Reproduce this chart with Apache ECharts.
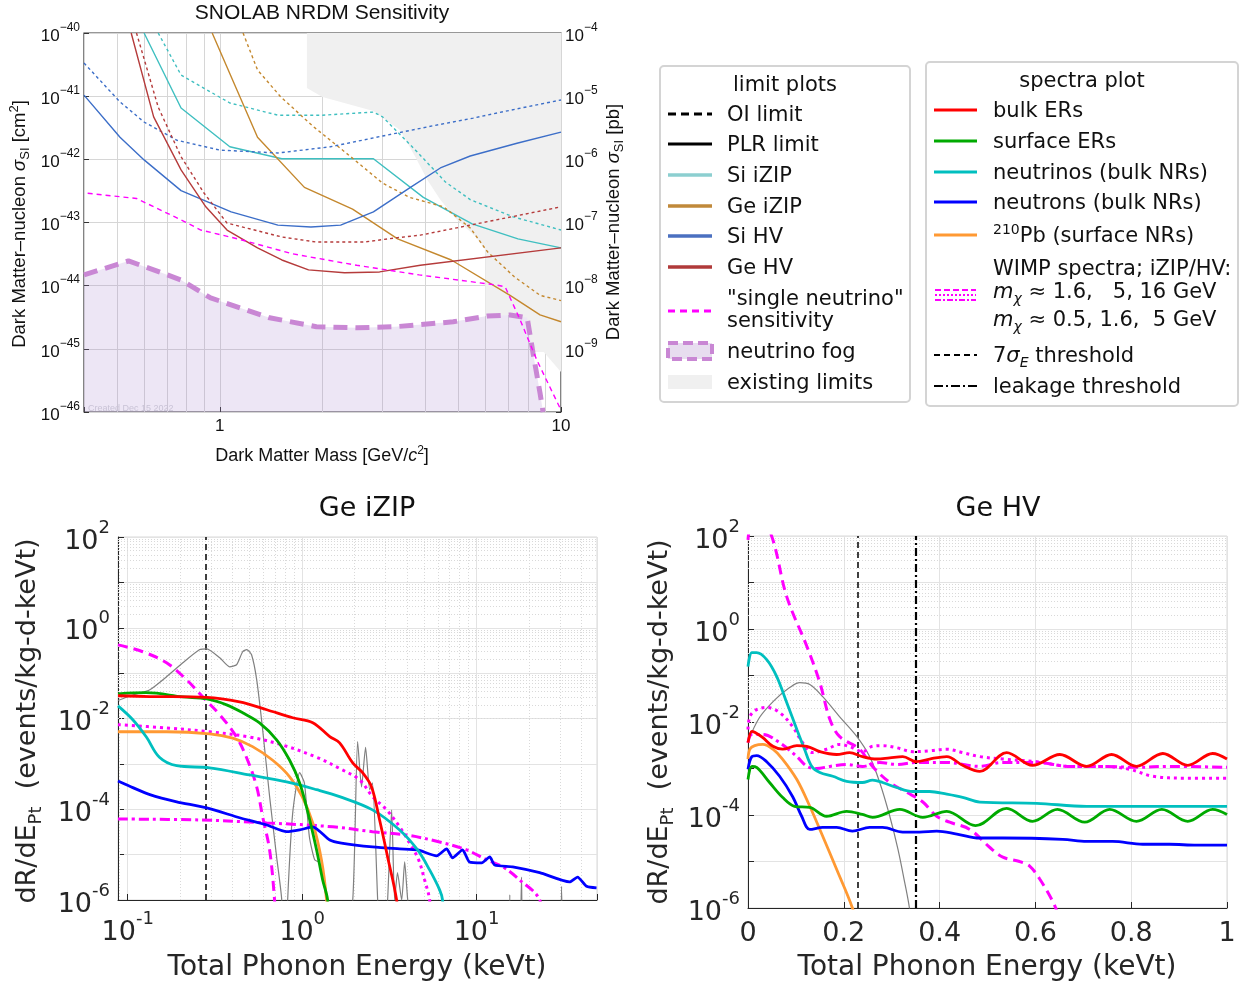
<!DOCTYPE html>
<html>
<head>
<meta charset="utf-8">
<title>SNOLAB NRDM sensitivity and Ge spectra</title>
<script src="https://cdn.jsdelivr.net/npm/echarts@6/dist/echarts.min.js"></script>
<style>
  html, body { margin: 0; padding: 0; background: #fff; }
  #chart { width: 1243px; height: 986px; }
</style>
</head>
<body>
<div id="chart"></div>
<script>
// ---------- top plot: [mass GeV/c^2, sigma_SI in pb] (1 pb = 1e-36 cm^2; left axis shows cm^2) ----------
var siIzipPLR = [[0.60,1e-4],[0.77,6.5e-6],[1.07,1.58e-6],[1.52,1.02e-6],[2.82,1.02e-6],[3.95,2.5e-7],[5.49,9.5e-8],[7.48,5.5e-8],[10,3.96e-8]];
var siIzipOI = [[0.66,1e-4],[0.77,2.16e-5],[1.07,7.8e-6],[1.48,5.0e-6],[2.0,5.0e-6],[2.82,5.6e-6],[3.0,4.7e-6],[3.74,1.41e-6],[4.58,4.4e-7],[5.42,2.3e-7],[7.24,1.23e-7],[10,7.6e-8]];
var geIzipPLR = [[0.95,1e-4],[1.10,1.62e-5],[1.29,2.24e-6],[1.77,3.6e-7],[2.45,1.63e-7],[3.32,5.5e-8],[4.77,2.55e-8],[7.09,7.0e-9],[8.68,3.44e-9],[10,2.68e-9]];
var geIzipOI = [[1.17,1e-4],[1.29,2.6e-5],[1.51,9.7e-6],[1.88,3.3e-6],[2.42,1.1e-6],[3.0,4.2e-7],[3.6,2.5e-7],[4.53,1.77e-7],[5.42,8.2e-8],[6.1,3.4e-8],[7.3,1.38e-8],[8.7,7.0e-9],[10,5.8e-9]];
var siHvPLR = [[0.40,1.04e-5],[0.51,2.24e-6],[0.60,9.8e-7],[0.77,3.2e-7],[1.08,1.47e-7],[1.48,9.1e-8],[1.85,8.5e-8],[2.26,9.1e-8],[2.82,1.47e-7],[3.62,3.6e-7],[4.43,7.3e-7],[5.42,1.13e-6],[7.43,1.8e-6],[10,2.7e-6]];
var siHvOI = [[0.40,3.35e-5],[0.51,8.1e-6],[0.60,3.9e-6],[0.75,2.0e-6],[1.0,1.4e-6],[1.48,1.26e-6],[2.11,1.58e-6],[3.0,2.34e-6],[4.22,3.4e-6],[5.53,4.5e-6],[7.43,6.3e-6],[10,8.7e-6]];
var geHvPLR = [[0.55,1e-4],[0.64,4.7e-6],[0.77,6.8e-7],[0.91,1.77e-7],[1.05,7.6e-8],[1.29,3.96e-8],[1.52,2.55e-8],[1.82,1.78e-8],[2.32,1.6e-8],[2.94,1.65e-8],[3.87,2.1e-8],[10,3.96e-8]];
var geHvOI = [[0.57,1e-4],[0.66,6.7e-6],[0.77,1.1e-6],[0.90,2.9e-7],[1.05,9.8e-8],[1.52,5.9e-8],[1.92,4.9e-8],[2.65,4.9e-8],[3.27,5.7e-8],[3.87,6.3e-8],[10,1.77e-7]];
var singleNeutrino = [[0.41,2.9e-7],[0.57,2.4e-7],[0.77,1.1e-7],[0.88,7.6e-8],[1.13,5.5e-8],[1.63,3.2e-8],[2.52,2.1e-8],[3.84,1.48e-8],[6.5,1.02e-8],[6.86,9.6e-9],[7.59,2.87e-9],[8.5,6.6e-10],[10,1.07e-10]];
var neutrinoFog = [[0.40,1.48e-8],[0.54,2.46e-8],[0.64,1.78e-8],[0.77,1.23e-8],[0.94,6.4e-9],[1.40,3.1e-9],[1.92,2.24e-9],[2.52,2.15e-9],[3.27,2.24e-9],[4.83,2.68e-9],[6.08,3.3e-9],[7.09,3.44e-9],[7.96,3.1e-9],[8.28,8.6e-10],[8.68,2.0e-10],[8.86,1e-10]];
// lower edge of the excluded region (filled up to the top); it stops at the fog
var existingLimits = [[1.80,1e-4],[1.80,1.35e-5],[2.0,9.7e-6],[2.82,5.8e-6],[3.38,2.9e-6],[3.74,1.1e-6],[4.06,4.7e-7],[4.43,2.3e-7],[4.96,1.1e-7],[5.6,6.1e-8],[6.0,3.7e-8],[6.0,3.3e-9],[7.09,3.44e-9],[7.96,3.1e-9],[8.28,8.9e-10],[8.9,8.9e-10],[10,4.3e-10]];
var PB_TO_CM2_EXP = -36;

// ---------- Ge iZIP spectra: [keVt, events/kg-d-keVt] ----------
var izBulkER = [[0.088,0.0317],[0.134,0.0305],[0.284,0.0293],[0.438,0.0233],[0.627,0.0156],[0.883,0.0104],[1.15,0.0081],[1.44,0.0040],[1.64,0.0029],[1.95,0.00105],[2.22,6.4e-4],[2.50,3.1e-4],[2.78,5.8e-5],[3.09,8.9e-6],[3.48,1e-6],[3.7,1e-7]];
var izSurfER = [[0.088,0.035],[0.128,0.037],[0.207,0.030],[0.284,0.027],[0.369,0.020],[0.456,0.0134],[0.570,0.0080],[0.714,0.0034],[0.848,0.0012],[0.968,3.8e-4],[1.08,8.3e-5],[1.21,1.27e-5],[1.31,2.8e-6],[1.40,1e-6],[1.45,1e-7]];
var izNeutrino = [[0.088,0.019],[0.107,0.0094],[0.128,0.0039],[0.152,0.0014],[0.191,9.1e-4],[0.295,8.2e-4],[0.50,5.7e-4],[0.815,4.0e-4],[1.21,2.7e-4],[1.64,1.9e-4],[2.53,9.7e-5],[3.62,3.5e-5],[4.59,1.27e-5],[5.38,4.6e-6],[6.14,1.67e-6],[6.38,1e-6],[6.6,1e-7]];
var izNeutron = [[0.088,4.2e-4],[0.107,3.0e-4],[0.134,2.1e-4],[0.191,1.46e-4],[0.284,1.07e-4],[0.438,6.5e-5],[0.627,4.5e-5],[0.815,3.2e-5],[0.968,3.5e-5],[1.15,4.1e-5],[1.44,2.1e-5],[1.68,1.8e-5],[2.53,1.48e-5],[3.62,1.34e-5],[4.59,1.27e-5],[5.90,9.4e-6],[6.73,1.34e-5],[7.28,8.5e-6],[8.31,1.27e-5],[9.1,6.9e-6],[10.7,6.6e-6],[11.9,8.9e-6],[12.7,5.9e-6],[16.1,5.4e-6],[23.0,4.0e-6],[34.1,2.5e-6],[37.9,3.2e-6],[42.7,2.0e-6],[48.7,1.85e-6]];
var izPb210 = [[0.088,0.0051],[0.167,0.0051],[0.295,0.0046],[0.400,0.0037],[0.520,0.0024],[0.678,0.0012],[0.848,5.2e-4],[1.0,1.9e-4],[1.15,5.0e-5],[1.29,7.7e-6],[1.38,1e-6],[1.42,1e-7]];
var izWimp16 = [[0.088,0.42],[0.122,0.296],[0.167,0.169],[0.218,0.071],[0.269,0.030],[0.337,0.0121],[0.421,0.0039],[0.487,0.0012],[0.549,3.1e-4],[0.594,6.8e-5],[0.651,1.27e-5],[0.695,1e-6],[0.72,1e-7]];
var izWimp5 = [[0.088,0.0073],[0.167,0.0062],[0.295,0.0051],[0.50,0.0039],[0.772,0.0026],[1.21,0.0014],[1.64,7.9e-4],[2.14,4.4e-4],[2.53,1.9e-4],[3.05,9.7e-5],[3.62,4.1e-5],[4.13,1.8e-5],[4.65,7.7e-6],[5.03,2.8e-6],[5.38,1e-6],[5.6,1e-7]];
var izWimp16GeV = [[0.088,6.1e-5],[0.259,5.8e-5],[0.627,5.0e-5],[1.50,4.1e-5],[2.53,3.2e-5],[3.97,2.7e-5],[6.14,1.9e-5],[8.77,1.27e-5],[11.4,7.7e-6],[14.1,5.4e-6],[17.6,2.8e-6],[23.0,1e-6],[25,1e-7]];
var izGrayTrace = [[0.088,0.025],[0.107,0.033],[0.134,0.043],[0.167,0.083],[0.207,0.169],[0.259,0.33],[0.284,0.344],[0.337,0.218],[0.384,0.138],[0.421,0.153],[0.456,0.296],[0.481,0.33],[0.513,0.254],[0.549,0.071],[0.594,0.0056],[0.651,1.9e-4],[0.714,8.9e-6],[0.764,1e-6],[0.794,1e-8],[0.826,1e-6],[0.883,8.3e-5],[0.968,6.4e-4],[1.03,3.8e-4],[1.10,2.5e-5],[1.18,7.7e-6],[1.26,6.6e-6],[1.38,1e-6],[1.64,1e-8],[1.95,1e-6],[2.08,0.0031],[2.19,3.1e-4],[2.31,0.0023],[2.44,2.7e-4],[2.53,3.8e-4],[2.71,1e-6],[2.87,1e-8],[3.09,1e-6],[3.26,9.7e-5],[3.39,1e-6],[3.52,4.0e-6],[3.72,1e-6],[3.87,6.9e-6],[4.03,1e-6],[4.71,1e-8],[15.1,1e-8],[15.5,1.3e-6],[15.8,1e-8],[17.4,1e-8],[18.1,3.2e-6],[18.6,1e-8],[29.9,1e-8],[30.7,2.0e-6],[31.5,1e-8]];
var izThreshold = 0.28;

// ---------- Ge HV spectra ----------
var hvBulkER = [[0,0.0036],[0.008,0.0063],[0.014,0.0060],[0.031,0.0046],[0.052,0.0030],[0.072,0.0026],[0.102,0.0031],[0.123,0.0030],[0.150,0.0023],[0.185,0.0020],[0.212,0.0022],[0.239,0.0018],[0.269,0.0016],[0.296,0.0017],[0.323,0.0018],[0.352,0.0014],[0.379,0.0016],[0.415,0.0018],[0.448,0.00117],[0.484,8.7e-4],[0.540,0.0022],[0.594,0.00117],[0.651,0.0020],[0.707,0.00111],[0.759,0.0020],[0.811,0.00111],[0.866,0.0021],[0.918,0.00117],[0.970,0.0021],[1.0,0.0016]];
var hvSurfER = [[0,5.8e-4],[0.008,0.00111],[0.018,0.00106],[0.045,5.0e-4],[0.072,2.4e-4],[0.097,1.54e-4],[0.129,1.46e-4],[0.164,9.4e-5],[0.206,1.2e-4],[0.239,1.03e-4],[0.260,8.9e-5],[0.317,1.32e-4],[0.365,8.9e-5],[0.415,1.2e-4],[0.475,5.9e-5],[0.540,1.39e-4],[0.594,7.3e-5],[0.646,1.32e-4],[0.703,7.0e-5],[0.755,1.32e-4],[0.811,7.3e-5],[0.864,1.32e-4],[0.918,7.3e-5],[0.970,1.32e-4],[1.0,1.03e-4]];
var hvNeutrino = [[0,0.155],[0.008,0.31],[0.018,0.31],[0.039,0.22],[0.060,0.095],[0.081,0.026],[0.102,0.0069],[0.118,0.0026],[0.133,0.00111],[0.150,8.2e-4],[0.177,6.8e-4],[0.206,5.3e-4],[0.239,5.0e-4],[0.260,5.6e-4],[0.281,5.0e-4],[0.310,3.9e-4],[0.344,3.2e-4],[0.379,3.2e-4],[0.415,2.8e-4],[0.448,2.4e-4],[0.484,1.9e-4],[0.603,1.78e-4],[0.707,1.54e-4],[0.845,1.54e-4],[1.0,1.54e-4]];
var hvNeutron = [[0,9.6e-4],[0.008,0.0018],[0.018,0.0019],[0.039,0.0014],[0.066,6.8e-4],[0.093,2.5e-4],[0.112,9.4e-5],[0.129,4.9e-5],[0.156,5.4e-5],[0.185,5.4e-5],[0.218,4.5e-5],[0.254,5.4e-5],[0.281,5.4e-5],[0.323,4.3e-5],[0.358,4.3e-5],[0.394,4.5e-5],[0.436,3.9e-5],[0.484,3.2e-5],[0.532,3.2e-5],[0.657,3.0e-5],[0.707,2.7e-5],[0.761,2.7e-5],[0.824,2.35e-5],[0.880,2.35e-5],[0.937,2.24e-5],[1.0,2.24e-5]];
var hvPb210 = [[0,0.0016],[0.004,0.0026],[0.014,0.0031],[0.031,0.0033],[0.052,0.0026],[0.072,0.0016],[0.102,5.8e-4],[0.129,1.54e-4],[0.156,3.5e-5],[0.185,6.8e-6],[0.218,1e-6],[0.23,3e-7]];
var hvWimp05 = [[0,83],[0.012,250],[0.045,130],[0.081,4.9],[0.123,0.42],[0.150,0.070],[0.171,0.0113],[0.191,0.0049],[0.233,0.0026],[0.260,0.00111],[0.296,5.0e-4],[0.331,3.1e-4],[0.365,1.9e-4],[0.394,9.4e-5],[0.421,7.0e-5],[0.463,4.9e-5],[0.505,2.0e-5],[0.532,1.24e-5],[0.567,1.0e-5],[0.588,8.0e-6],[0.609,4.2e-6],[0.636,1.4e-6],[0.646,8e-7]];
var hvWimp16 = [[0,0.0069],[0.004,0.0131],[0.018,0.0185],[0.039,0.0205],[0.066,0.016],[0.093,0.0080],[0.114,0.0036],[0.135,0.0022],[0.164,0.0026],[0.191,0.0033],[0.218,0.0028],[0.239,0.0023],[0.260,0.0030],[0.281,0.0031],[0.310,0.0028],[0.344,0.0023],[0.379,0.0024],[0.415,0.0026],[0.448,0.0022],[0.484,0.0018],[0.532,0.0016],[0.603,0.0014],[0.672,0.00111],[0.741,0.00111],[0.797,9.6e-4],[0.845,6.8e-4],[0.916,6.2e-4],[1.0,6.2e-4]];
var hvWimp5 = [[0,0.0036],[0.008,0.0054],[0.031,0.0054],[0.066,0.0036],[0.102,0.0018],[0.123,0.00111],[0.143,0.0010],[0.171,0.00111],[0.206,0.00122],[0.239,0.00111],[0.275,0.00135],[0.310,0.00122],[0.352,0.00135],[0.415,0.00135],[0.484,0.00111],[0.532,0.00135],[0.603,0.00135],[0.672,0.00111],[0.741,0.00111],[0.811,0.00106],[0.880,0.00111],[1.0,0.00106]];
var hvGrayTrace = [[0,0.0038],[0.024,0.0125],[0.056,0.030],[0.087,0.055],[0.108,0.070],[0.129,0.064],[0.156,0.035],[0.191,0.0131],[0.227,0.0049],[0.254,0.0018],[0.275,5.0e-4],[0.296,9.4e-5],[0.313,1.84e-5],[0.327,3.6e-6],[0.337,1e-6],[0.345,2e-7]];
var hvThreshold = 0.235;
var hvLeakage = 0.347;

var TOPFONT = 'Liberation Sans, Arial, sans-serif';
var MATFONT = 'DejaVu Sans, sans-serif';
var DASH = [10, 6], DOT = [3, 4], DASHDOT = [10, 4, 3, 4];

var chart = echarts.init(document.getElementById('chart'));

function expOf(v) {
  var l = Math.log10(v), e = Math.round(l);
  return Math.abs(l - e) < 1e-4 ? e : null;
}
function richAxis(size, fam, color) {
  return {
    b: { fontSize: size, fontFamily: fam, color: color, lineHeight: Math.round(size * 1.35), verticalAlign: 'bottom' },
    s: { fontSize: Math.round(size * 0.68), fontFamily: fam, color: color, lineHeight: Math.round(size * 0.68), verticalAlign: 'top' }
  };
}
var topRich = richAxis(17, TOPFONT, '#111');
var matRich = richAxis(27, MATFONT, '#262626');

function pbLabel(v) {
  var e = expOf(v);
  if (e === null || e === -10) return '';
  return '{b|10}{s|−' + (-e) + '}';
}
function cm2Label(v) {
  var e = expOf(v);
  if (e === null) return '';
  return '{b|10}{s|−' + (-(e + PB_TO_CM2_EXP)) + '}';
}
function matLogLabel(v) {
  var e = expOf(v);
  if (e === null || e % 2 !== 0) return '';
  return '{b|10}{s|' + e + '}';
}

// gridlines drawn as marklines (log-spaced minors, which the axis can't do)
function gridDecor(xi, yi, xs, ys, style, extra) {
  var items = xs.map(function (v) { return { xAxis: v }; })
    .concat(ys.map(function (v) { return { yAxis: v }; }))
    .concat(extra || []);
  return {
    type: 'line', xAxisIndex: xi, yAxisIndex: yi, data: [], silent: true,
    markLine: { z: 1, silent: true, animation: false, symbol: ['none', 'none'],
      label: { show: false }, lineStyle: style, emphasis: { disabled: true }, data: items }
  };
}
var mult = [2, 3, 4, 5, 6, 7, 8, 9];
var topMinorX = [0.5, 0.6, 0.7, 0.8, 0.9].concat(mult);
var logMinorY = [];
for (var e = -6; e < 2; e++) mult.forEach(function (m) { logMinorY.push(m * Math.pow(10, e)); });
var izMinorX = [0.09];
[-1, 0, 1].forEach(function (e) { mult.forEach(function (m) { var v = m * Math.pow(10, e); if (v < 49) izMinorX.push(v); }); });

function limitLine(data, color, dashed) {
  return { type: 'line', xAxisIndex: 0, yAxisIndex: 0, data: data, symbol: 'none', silent: true, z: 4,
    lineStyle: { color: color, width: 1.4, type: dashed ? [3, 3] : 'solid' } };
}
function spec(idx, data, color, dash, width, smooth) {
  return { type: 'line', xAxisIndex: idx, yAxisIndex: idx + 1, data: data, symbol: 'none', silent: true, z: 4,
    smooth: smooth === undefined ? 0.35 : smooth,
    lineStyle: { color: color, width: width || 2.8, type: dash || 'solid' } };
}

var series = [
  gridDecor(0, 0, topMinorX, [], { color: '#d6d6d6', width: 1, type: 'solid' },
    [{ yAxis: 1e-7, lineStyle: { color: '#e2e2e2', width: 3, type: 'solid' } }]),
  { type: 'line', xAxisIndex: 0, yAxisIndex: 0, data: existingLimits, symbol: 'none', silent: true, z: 2,
    lineStyle: { width: 0, opacity: 0 }, areaStyle: { origin: 'end', color: '#f0f0f0', opacity: 1 } },
  { type: 'line', xAxisIndex: 0, yAxisIndex: 0, data: neutrinoFog, symbol: 'none', silent: true, z: 3,
    lineStyle: { color: '#c987d4', width: 5, type: [14, 8] },
    areaStyle: { origin: 'start', color: 'rgba(165,125,205,0.28)' } },
  limitLine(siIzipOI, '#3fbfc0', true),
  limitLine(siIzipPLR, '#3fbfc0', false),
  limitLine(geIzipOI, '#c4882e', true),
  limitLine(geIzipPLR, '#c4882e', false),
  limitLine(siHvOI, '#3c6ec8', true),
  limitLine(siHvPLR, '#3c6ec8', false),
  limitLine(geHvOI, '#b53b3b', true),
  limitLine(geHvPLR, '#b53b3b', false),
  { type: 'line', xAxisIndex: 0, yAxisIndex: 0, data: singleNeutrino, symbol: 'none', silent: true, z: 4,
    lineStyle: { color: '#ff00ff', width: 1.4, type: [5, 4] } },

  gridDecor(1, 2, izMinorX, logMinorY, { color: '#d9d9d9', width: 1, type: [1, 2] }),
  gridDecor(1, 2, [], [], {}, [{ xAxis: izThreshold, lineStyle: { color: '#000', width: 1.5, type: [6, 4] } }]),
  spec(1, izGrayTrace, '#808080', 'solid', 1.2, 0.2),
  spec(1, izWimp16, '#ff00ff', DASH, 3),
  spec(1, izWimp5, '#ff00ff', DOT, 3),
  spec(1, izWimp16GeV, '#ff00ff', DASHDOT, 3),
  spec(1, izPb210, '#ff9933'),
  spec(1, izNeutron, '#0000ff', 'solid', 2.8, 0.2),
  spec(1, izNeutrino, '#00bfbf'),
  spec(1, izSurfER, '#00aa00'),
  spec(1, izBulkER, '#ff0000'),

  gridDecor(2, 3, [], logMinorY, { color: '#d9d9d9', width: 1, type: [1, 2] }),
  gridDecor(2, 3, [], [], {}, [
    { xAxis: hvThreshold, lineStyle: { color: '#000', width: 1.5, type: [6, 4] } },
    { xAxis: hvLeakage, lineStyle: { color: '#000', width: 2.2, type: [8, 3, 2, 3] } }]),
  spec(2, hvGrayTrace, '#808080', 'solid', 1.2),
  spec(2, hvWimp05, '#ff00ff', DASH, 3),
  spec(2, hvWimp16, '#ff00ff', DOT, 3),
  spec(2, hvWimp5, '#ff00ff', DASHDOT, 3),
  spec(2, hvPb210, '#ff9933'),
  spec(2, hvNeutron, '#0000ff'),
  spec(2, hvNeutrino, '#00bfbf'),
  spec(2, hvSurfER, '#00aa00'),
  spec(2, hvBulkER, '#ff0000')
];

// ---------- texts & legends ----------
var g = [];
function richFor(size, fam, color) {
  var L = Math.round(size * 1.3);
  var base = function (o) { o.fontFamily = fam; o.fill = color; return o; };
  return {
    i: base({ fontSize: size, fontStyle: 'italic', lineHeight: L }),
    sup: base({ fontSize: Math.round(size * 0.68), lineHeight: Math.round(size * 0.6), verticalAlign: 'top' }),
    sub: base({ fontSize: Math.round(size * 0.68), lineHeight: Math.round(size * 0.8), verticalAlign: 'bottom' }),
    isub: base({ fontSize: Math.round(size * 0.68), fontStyle: 'italic', lineHeight: Math.round(size * 0.8), verticalAlign: 'bottom' })
  };
}
function addText(x, y, str, size, fam, opt) {
  opt = opt || {};
  var color = opt.color || '#111';
  g.push({ type: 'text', x: x, y: y, rotation: opt.rot || 0, silent: true, z: 20,
    style: { text: str, fontSize: size, fontFamily: fam, fill: color, align: opt.align || 'left',
      verticalAlign: 'middle', lineHeight: Math.round(size * 1.3), rich: richFor(size, fam, color) } });
}
function addLine(x1, y1, x2, y2, color, width, dash) {
  g.push({ type: 'line', silent: true, z: 20, shape: { x1: x1, y1: y1, x2: x2, y2: y2 },
    style: { stroke: color, lineWidth: width, lineDash: dash || null } });
}
function addRect(x, y, w, h, fill, stroke, lw, dash, r) {
  g.push({ type: 'rect', silent: true, z: 19, shape: { x: x, y: y, width: w, height: h, r: r || 0 },
    style: { fill: fill, stroke: stroke || null, lineWidth: lw || 0, lineDash: dash || null } });
}

// top plot texts
addText(322, 13, 'SNOLAB NRDM Sensitivity', 21, TOPFONT, { align: 'center' });
addText(322, 456, 'Dark Matter Mass [GeV/{i|c}{sup|2}]', 18, TOPFONT, { align: 'center' });
addText(20, 224, 'Dark Matter–nucleon {i|σ}{sub|SI} [cm{sup|2}]', 18.5, TOPFONT, { align: 'center', rot: Math.PI / 2 });
addText(614, 222, 'Dark Matter–nucleon {i|σ}{sub|SI} [pb]', 18.5, TOPFONT, { align: 'center', rot: Math.PI / 2 });
addText(88, 409, 'Created Dec 15 2022', 9, TOPFONT, { color: '#c9c3d6' });

// bottom plot texts
addText(367, 509, 'Ge iZIP', 27, MATFONT, { align: 'center' });
addText(998, 509, 'Ge HV', 27, MATFONT, { align: 'center' });
addText(357, 968, 'Total Phonon Energy (keVt)', 28, MATFONT, { align: 'center', color: '#262626' });
addText(987, 968, 'Total Phonon Energy (keVt)', 28, MATFONT, { align: 'center', color: '#262626' });
addText(28, 721, 'dR/dE{sub|Pt}  (events/kg-d-keVt)', 27, MATFONT, { align: 'center', rot: Math.PI / 2, color: '#262626' });
addText(660, 722, 'dR/dE{sub|Pt}  (events/kg-d-keVt)', 27, MATFONT, { align: 'center', rot: Math.PI / 2, color: '#262626' });

// legend: limit plots
var LY = 2;
addRect(660, 66, 250, 336, '#fff', '#d4d4d4', 2, null, 4);
addText(785, 84 + LY, 'limit plots', 21, MATFONT, { align: 'center' });
addLine(668, 114, 712, 114, '#000', 3, [8, 5]);
addText(727, 114 + LY, 'OI limit', 21, MATFONT);
addLine(668, 144, 712, 144, '#000', 3);
addText(727, 144 + LY, 'PLR limit', 21, MATFONT);
addLine(668, 175, 712, 175, '#8ccfd0', 3.5);
addText(727, 175 + LY, 'Si iZIP', 21, MATFONT);
addLine(668, 206, 712, 206, '#c0893a', 3.5);
addText(727, 206 + LY, 'Ge iZIP', 21, MATFONT);
addLine(668, 236, 712, 236, '#4b70c0', 3.5);
addText(727, 236 + LY, 'Si HV', 21, MATFONT);
addLine(668, 267, 712, 267, '#b03a3a', 3.5);
addText(727, 267 + LY, 'Ge HV', 21, MATFONT);
addLine(668, 311, 712, 311, '#ff00ff', 3, [7, 5]);
addText(727, 298 + LY, '"single neutrino"', 21, MATFONT);
addText(727, 320 + LY, 'sensitivity', 21, MATFONT);
addRect(668, 343, 44, 16, '#e7ddef', '#c987d4', 4, [10, 5]);
addText(727, 351 + LY, 'neutrino fog', 21, MATFONT);
addRect(668, 375, 44, 14, '#f0f0f0');
addText(727, 382 + LY, 'existing limits', 21, MATFONT);

// legend: spectra plot
addRect(926, 62, 312, 344, '#fff', '#d4d4d4', 2, null, 4);
addText(1082, 80 + LY, 'spectra plot', 21, MATFONT, { align: 'center' });
addLine(934, 110, 977, 110, '#ff0000', 3);
addText(993, 110 + LY, 'bulk ERs', 21, MATFONT);
addLine(934, 141, 977, 141, '#00aa00', 3);
addText(993, 141 + LY, 'surface ERs', 21, MATFONT);
addLine(934, 172, 977, 172, '#00bfbf', 3);
addText(993, 172 + LY, 'neutrinos (bulk NRs)', 21, MATFONT);
addLine(934, 202, 977, 202, '#0000ff', 3);
addText(993, 202 + LY, 'neutrons (bulk NRs)', 21, MATFONT);
addLine(934, 235, 977, 235, '#ff9933', 3);
addText(993, 235 + LY, '{sup|210}Pb (surface NRs)', 21, MATFONT);
addLine(935, 290, 976, 290, '#ff00ff', 2, [6, 3]);
addLine(935, 295, 976, 295, '#ff00ff', 2, [2, 2]);
addLine(935, 300, 976, 300, '#ff00ff', 2, [6, 2, 2, 2]);
addText(993, 268 + LY, 'WIMP spectra; iZIP/HV:', 21, MATFONT);
addText(993, 291 + LY, '{i|m}{isub|χ} ≈ 1.6,   5, 16 GeV', 21, MATFONT);
addText(993, 319 + LY, '{i|m}{isub|χ} ≈ 0.5, 1.6,  5 GeV', 21, MATFONT);
addLine(934, 355, 977, 355, '#000', 2, [6, 4]);
addText(993, 355 + LY, '7{i|σ}{isub|E} threshold', 21, MATFONT);
addLine(934, 386, 977, 386, '#000', 2, [9, 3, 2, 3]);
addText(993, 386 + LY, 'leakage threshold', 21, MATFONT);

var option = {
  animation: false,
  backgroundColor: '#fff',
  grid: [
    { left: 84, top: 33, width: 477, height: 379, show: true, borderColor: '#333', borderWidth: 1.2, backgroundColor: '#fff' },
    { left: 118, top: 537, width: 479, height: 363, show: true, borderColor: '#d8d8d8', borderWidth: 1, backgroundColor: '#fff' },
    { left: 748, top: 536, width: 479, height: 372, show: true, borderColor: '#d8d8d8', borderWidth: 1, backgroundColor: '#fff' }
  ],
  xAxis: [
    { gridIndex: 0, type: 'log', min: 0.4, max: 10,
      axisLine: { show: false }, axisTick: { show: true, inside: true, length: 5, lineStyle: { color: '#333' } },
      splitLine: { show: true, lineStyle: { color: '#d6d6d6' } },
      axisLabel: { margin: 6, fontSize: 17, fontFamily: TOPFONT, color: '#111',
        formatter: function (v) { var e = expOf(v); return e === 0 ? '1' : e === 1 ? '10' : ''; } } },
    { gridIndex: 1, type: 'log', min: 0.088, max: 49,
      axisLine: { show: true, lineStyle: { color: '#262626' } },
      axisTick: { show: true, inside: true, length: 6, lineStyle: { color: '#262626' } },
      splitLine: { show: true, lineStyle: { color: '#e3e3e3' } },
      axisLabel: { margin: 10, formatter: function (v) { var e = expOf(v); return e === null ? '' : '{b|10}{s|' + e + '}'; }, rich: matRich } },
    { gridIndex: 2, type: 'value', min: 0, max: 1, interval: 0.2,
      axisLine: { show: true, lineStyle: { color: '#262626' } },
      axisTick: { show: true, inside: true, length: 6, lineStyle: { color: '#262626' } },
      splitLine: { show: true, lineStyle: { color: '#e3e3e3' } },
      axisLabel: { margin: 12, fontSize: 27, fontFamily: MATFONT, color: '#262626',
        formatter: function (v) { return String(+v.toFixed(1)); } } }
  ],
  yAxis: [
    { gridIndex: 0, type: 'log', min: 1e-10, max: 1e-4,
      axisLine: { show: false }, axisTick: { show: true, inside: true, length: 5, lineStyle: { color: '#333' } },
      splitLine: { show: true, lineStyle: { color: '#d6d6d6' } },
      axisLabel: { margin: 4, formatter: cm2Label, rich: topRich } },
    { gridIndex: 0, type: 'log', min: 1e-10, max: 1e-4, position: 'right',
      axisLine: { show: false }, axisTick: { show: true, inside: true, length: 5, lineStyle: { color: '#333' } },
      splitLine: { show: false },
      axisLabel: { margin: 4, formatter: pbLabel, rich: topRich } },
    { gridIndex: 1, type: 'log', min: 1e-6, max: 1e2,
      axisLine: { show: true, lineStyle: { color: '#262626' } },
      axisTick: { show: true, inside: true, length: 6, lineStyle: { color: '#262626' } },
      splitLine: { show: true, lineStyle: { color: '#e3e3e3' } },
      axisLabel: { margin: 8, formatter: matLogLabel, rich: matRich } },
    { gridIndex: 2, type: 'log', min: 1e-6, max: 1e2,
      axisLine: { show: true, lineStyle: { color: '#262626' } },
      axisTick: { show: true, inside: true, length: 6, lineStyle: { color: '#262626' } },
      splitLine: { show: true, lineStyle: { color: '#e3e3e3' } },
      axisLabel: { margin: 8, formatter: matLogLabel, rich: matRich } }
  ],
  series: series,
  graphic: { elements: g }
};
chart.setOption(option);
</script>
</body>
</html>
